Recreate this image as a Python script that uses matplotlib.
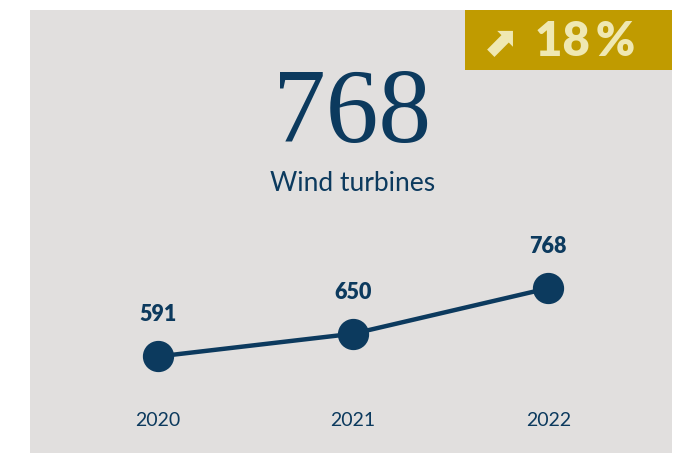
import matplotlib.pyplot as plt
from matplotlib.patches import Rectangle

# data
years = [2020, 2021, 2022]
turbines = [591, 650, 768]
headline = "768"
subtitle = "Wind turbines"
change = "18\u2009%"

navy = "#0c3a5e"
panel = "#e1dfde"
gold = "#c09b00"
cream = "#efe8b2"

W, H = 687, 453
fig = plt.figure(figsize=(W / 100, H / 100), dpi=100)
fig.patch.set_facecolor("white")

# grey card and gold badge
fig.patches.append(Rectangle((30 / W, 0), 642 / W, 443 / H, transform=fig.transFigure,
                             facecolor=panel, edgecolor="none", zorder=0))
fig.patches.append(Rectangle((465 / W, 383 / H), 207 / W, 60 / H, transform=fig.transFigure,
                             facecolor=gold, edgecolor="none", zorder=1))

fig.text(499 / W, 1 - 44 / H, "\u2b08", color=cream, fontsize=30, ha="center", va="center",
         family=["DejaVu Sans"], fontweight="bold")
fig.text(585 / W, 1 - 42 / H, change, color=cream, fontsize=34, ha="center", va="center",
         family=["Lato", "DejaVu Sans"], fontweight="heavy")

# headline
fig.text(352 / W, 1 - 117 / H, headline, color=navy, fontsize=76, ha="center", va="center",
         family=["Liberation Serif"])
fig.text(353 / W, 1 - 183 / H, subtitle, color=navy, fontsize=19, ha="center", va="center",
         family=["Lato", "DejaVu Sans"])

# line chart
ax = fig.add_axes([60.4 / W, (H - 380) / H, 585.5 / W, 150 / H], zorder=5)
ax.set_facecolor("none")
ax.plot(years, turbines, color=navy, lw=3.2, marker="o", ms=21.5, zorder=3)
for x, y in zip(years, turbines):
    ax.annotate(str(y), (x, y), xytext=(0, 30), textcoords="offset points",
                ha="center", va="center", color=navy, fontsize=15.5, fontweight="heavy",
                family=["Lato", "DejaVu Sans"])
ax.set_xlim(2019.5, 2022.5)
ax.set_ylim(530, 919)
ax.set_xticks(years)
ax.set_xticklabels([str(y) for y in years], color=navy, fontsize=14, family=["Lato", "DejaVu Sans"])
ax.tick_params(axis="x", length=0, pad=23)
ax.set_yticks([])
for s in ax.spines.values():
    s.set_visible(False)

fig.savefig("out.png", dpi=100)
